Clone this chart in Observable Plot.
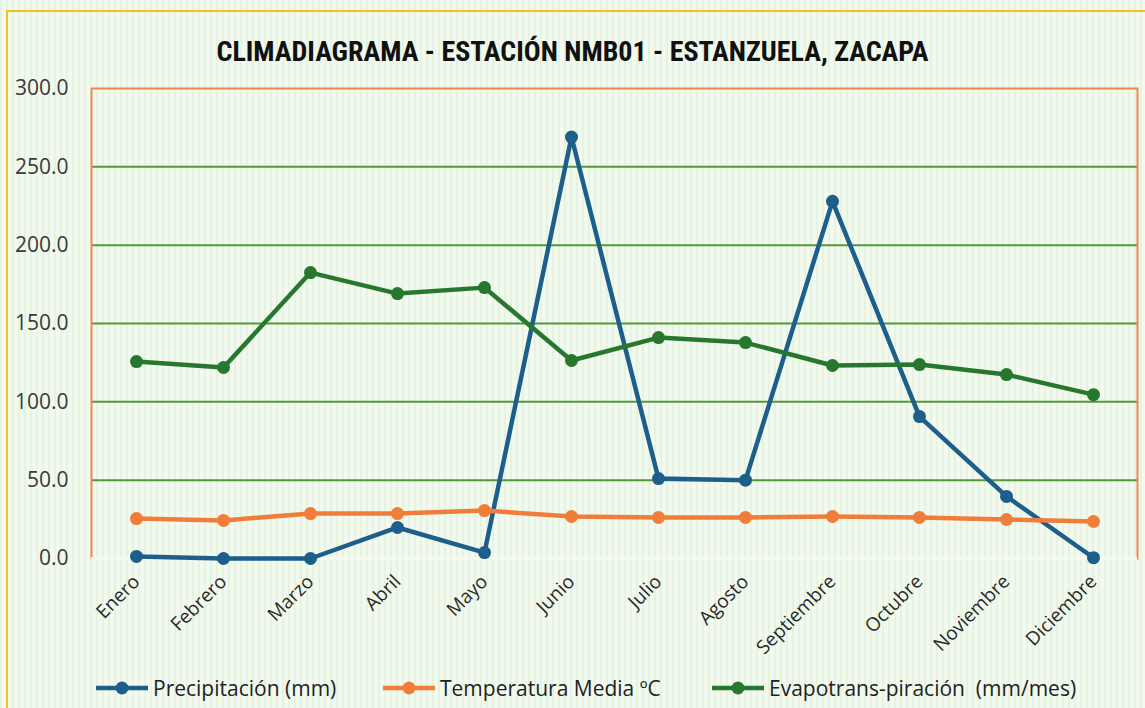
<!DOCTYPE html>
<html>
<head>
<meta charset="utf-8">
<script src="https://cdn.jsdelivr.net/npm/d3@7"></script>
<script src="https://cdn.jsdelivr.net/npm/@observablehq/plot@0.6"></script>
<style>
  html, body { margin: 0; padding: 0; background: #ffffff; }
  #wrap {
    position: relative; width: 1145px; height: 708px; overflow: hidden;
    background: #f2f9ef;
    background-image: repeating-linear-gradient(90deg, rgba(210,232,200,0.35) 0px, rgba(210,232,200,0.35) 2px, rgba(255,255,255,0) 2px, rgba(255,255,255,0) 6px);
    font-family: "Open Sans", "Liberation Sans", sans-serif;
  }
  #frame { position: absolute; left: 6px; top: 10px; width: 1150px; height: 720px; border: 2px solid #f3c21b; box-sizing: border-box; pointer-events: none; }
  #title {
    position: absolute; left: 0; width: 1145px; top: 35px; text-align: center;
    font-family: "Liberation Sans Narrow", "Roboto Condensed", "Roboto", sans-serif;
    font-weight: bold; font-size: 28px; color: #111; line-height: 34px;
  }
  #chart { position: absolute; left: 0; top: 0; }
  #legend { position: absolute; top: 674px; left: 0; width: 1145px; height: 28px; font-size: 21px; color: #222; }
  .item { position: absolute; display: flex; align-items: center; white-space: pre; }
  .item svg { margin-right: 4px; }
  g[aria-label="y-axis tick label"] text, g[aria-label="y-axis"] text { font-size: 21px; fill: #3a3a3a; }
  g[aria-label="x-axis tick label"] text, g[aria-label="x-axis"] text { font-size: 19px; fill: #2a2a2a; }
</style>
</head>
<body>
<div id="wrap">
  <div id="title">CLIMADIAGRAMA - ESTACIÓN NMB01 - ESTANZUELA, ZACAPA</div>
  <div id="chart"></div>
  <div id="legend"></div>
  <div id="frame"></div>
</div>
<script>
const months = ["Enero","Febrero","Marzo","Abril","Mayo","Junio","Julio","Agosto","Septiembre","Octubre","Noviembre","Diciembre"];
const precipitacion = [1.3, 0.0, 0.0, 19.8, 3.8, 269.0, 51.0, 50.0, 228.0, 90.6, 39.6, 0.5];
const temperatura = [25.5, 24.3, 28.7, 28.7, 30.6, 26.8, 26.2, 26.2, 26.8, 26.2, 24.9, 23.6];
const evapotranspiracion = [125.7, 121.9, 182.5, 169.1, 172.9, 126.4, 141.0, 137.8, 123.2, 123.8, 117.4, 104.6];
const seriesNames = ["Precipitación (mm)", "Temperatura Media ºC", "Evapotrans-piración  (mm/mes)"];
const seriesColors = ["#1d5f8a", "#f07d3a", "#27782e"];
const yTicks = [0, 50, 100, 150, 200, 250, 300];
const gridTicks = [50, 100, 150, 200, 250];

const seriesValues = [precipitacion, temperatura, evapotranspiracion];
const data = [];
seriesNames.forEach((s, i) => months.forEach((m, j) => data.push({series: s, month: m, value: seriesValues[i][j]})));

const plot = Plot.plot({
  width: 1145,
  height: 660,
  marginTop: 88,
  marginLeft: 91,
  marginRight: 8,
  marginBottom: 102,
  style: {background: "transparent", fontSize: "19px", fontFamily: "'Open Sans', 'Liberation Sans', sans-serif", color: "#404040"},
  x: {type: "point", domain: months, padding: 0.5, label: null, tickSize: 0, tickRotate: -45, tickPadding: 20},
  y: {domain: [0, 300], ticks: yTicks, tickFormat: d => d.toFixed(1), tickSize: 0, tickPadding: 23, label: null},
  color: {domain: seriesNames, range: seriesColors},
  marks: [
    Plot.ruleY(gridTicks, {stroke: "#55983c", strokeWidth: 2}),
    Plot.frame({stroke: "#ef8750", strokeWidth: 2}),
    Plot.ruleY([0], {stroke: "#f4faf1", strokeWidth: 3}),
    Plot.lineY(data, {x: "month", y: "value", z: "series", stroke: "series", strokeWidth: 4.5, strokeLinejoin: "round"}),
    Plot.dot(data, {x: "month", y: "value", fill: "series", r: 6.5})
  ]
});
document.getElementById("chart").appendChild(plot);

// legend
const legendX = [95, 382, 711];
const legend = document.getElementById("legend");
seriesNames.forEach((s, i) => {
  const div = document.createElement("div");
  div.className = "item";
  div.style.left = legendX[i] + "px";
  div.innerHTML = `<svg width="54" height="20"><line x1="1" y1="10" x2="53" y2="10" stroke="${seriesColors[i]}" stroke-width="4.5"/><circle cx="27" cy="10" r="6.5" fill="${seriesColors[i]}"/></svg><span>${s}</span>`;
  legend.appendChild(div);
});
</script>
</body>
</html>
